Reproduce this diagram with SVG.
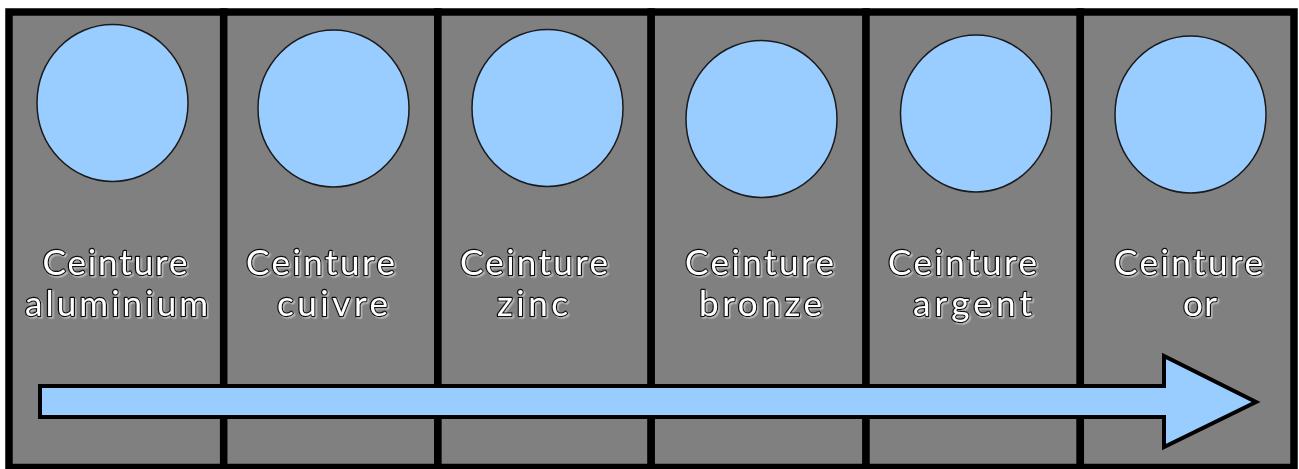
<svg xmlns="http://www.w3.org/2000/svg" width="1299" height="469" viewBox="0 0 1299 469">
  <defs>
    <filter id="sh" x="-10%" y="-20%" width="120%" height="140%">
      <feDropShadow dx="1.5" dy="1.5" stdDeviation="0.6" flood-color="#bbbbbb" flood-opacity="0.9"/>
    </filter>
  </defs>
  <style>
    .col { fill: #808080; stroke: #000; stroke-width: 7.5; }
    .disc { fill: #99ccff; stroke: #1a1a1a; stroke-width: 1.5; }
    .lbl { font-family: Lato, "DejaVu Sans", sans-serif; font-size: 35px; fill: #fff; stroke: #111; stroke-width: 2.5; paint-order: stroke; stroke-linejoin: round; text-anchor: middle; filter: url(#sh); }
    .arrow { fill: #99ccff; stroke: #000; stroke-width: 4; stroke-linejoin: miter; }
  </style>
  <rect x="0" y="0" width="1299" height="469" fill="#ffffff"/>
  <g id="node-aluminium">
    <rect class="col" x="9" y="12" width="214.7" height="455.5"/>
    <ellipse class="disc" cx="112.5" cy="103" rx="75.5" ry="78.5"/>
    <text class="lbl" x="115" y="275" textLength="145" lengthAdjust="spacing">Ceinture</text>
    <text class="lbl" x="116.5" y="316" textLength="183" lengthAdjust="spacing">aluminium</text>
  </g>
  <g id="node-cuivre">
    <rect class="col" x="223.7" y="12" width="214.2" height="455.5"/>
    <ellipse class="disc" cx="333.5" cy="108.5" rx="75.5" ry="78.5"/>
    <text class="lbl" x="320.5" y="275" textLength="149" lengthAdjust="spacing">Ceinture</text>
    <text class="lbl" x="332.5" y="316" textLength="111" lengthAdjust="spacing">cuivre</text>
  </g>
  <g id="node-zinc">
    <rect class="col" x="437.9" y="12" width="213.3" height="455.5"/>
    <ellipse class="disc" cx="547.5" cy="108" rx="75.5" ry="78.5"/>
    <text class="lbl" x="534" y="275" textLength="148" lengthAdjust="spacing">Ceinture</text>
    <text class="lbl" x="532.5" y="316" textLength="71" lengthAdjust="spacing">zinc</text>
  </g>
  <g id="node-bronze">
    <rect class="col" x="651.2" y="12" width="214.8" height="455.5"/>
    <ellipse class="disc" cx="761.5" cy="119" rx="75.5" ry="78.5"/>
    <text class="lbl" x="759.5" y="275" textLength="149" lengthAdjust="spacing">Ceinture</text>
    <text class="lbl" x="760.5" y="316" textLength="123" lengthAdjust="spacing">bronze</text>
  </g>
  <g id="node-argent">
    <rect class="col" x="866" y="12" width="214.3" height="455.5"/>
    <ellipse class="disc" cx="976" cy="113.5" rx="75.5" ry="78.5"/>
    <text class="lbl" x="962.5" y="275" textLength="149" lengthAdjust="spacing">Ceinture</text>
    <text class="lbl" x="972.5" y="316" textLength="119" lengthAdjust="spacing">argent</text>
  </g>
  <g id="node-or">
    <rect class="col" x="1080.3" y="12" width="213.7" height="455.5"/>
    <ellipse class="disc" cx="1190.5" cy="114.5" rx="75.5" ry="78.5"/>
    <text class="lbl" x="1188.5" y="275" textLength="149" lengthAdjust="spacing">Ceinture</text>
    <text class="lbl" x="1200" y="316" textLength="34" lengthAdjust="spacing">or</text>
  </g>
  <g id="connectors">
    <polygon class="arrow" points="40,386 1164,386 1164,356 1256,402 1164,447 1164,417 40,417"/>
  </g>
</svg>
